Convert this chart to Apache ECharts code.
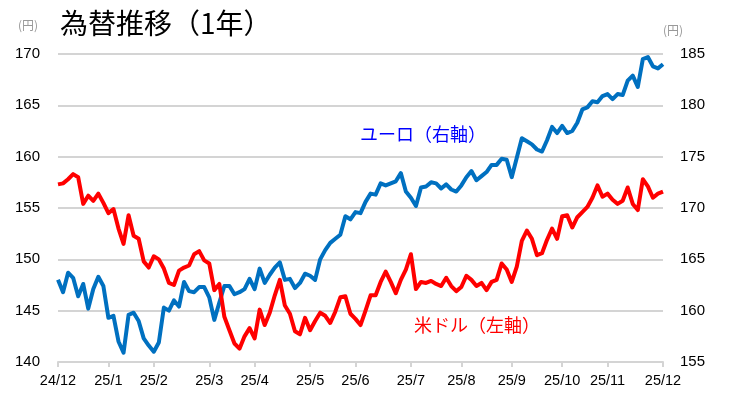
<!DOCTYPE html>
<html>
<head>
    <meta charset="utf-8">
    <script src="https://cdn.jsdelivr.net/npm/echarts@6/dist/echarts.min.js"></script>
    <style>
        html, body { margin: 0; padding: 0; background: #fff; }
    </style>
</head>
<body>
<div id="main" style="width: 733px;height:397px;"></div>
<script type="text/javascript">
    // 月ラベルと、その月が始まる位置(データ番号)
    const monthLabels = ['24/12', '25/1', '25/2', '25/3', '25/4', '25/5', '25/6',
        '25/7', '25/8', '25/9', '25/10', '25/11', '25/12'];
    const monthIdx = [0, 10, 19, 30, 39, 50, 59, 70, 80, 90, 100, 109, 120];

    // 米ドル/円 (左軸)
    const usd = [
        157.3, 157.4, 157.8, 158.3, 158.0, 155.4, 156.2, 155.7, 156.4, 155.5,
        154.5, 154.9, 153.0, 151.5, 154.3, 152.3, 152.0, 149.8, 149.2, 150.3,
        150.0, 149.1, 147.7, 147.5, 148.9, 149.2, 149.4, 150.5, 150.8, 149.9,
        149.6, 147.0, 147.6, 144.4, 143.1, 141.8, 141.3, 142.5, 143.3, 142.3,
        145.1, 143.6, 144.8, 146.5, 148.0, 145.5, 144.7, 143.0, 142.7, 144.3,
        143.1, 144.0, 144.8, 144.5, 143.8, 144.9, 146.3, 146.4, 144.7, 144.2,
        143.6, 145.0, 146.5, 146.5, 147.8, 148.8, 147.8, 146.7, 148.0, 149.0,
        150.5, 147.1, 147.8, 147.7, 147.9, 147.6, 147.4, 148.2, 147.4, 146.9,
        147.3, 148.4, 148.0, 147.4, 147.7, 147.0, 147.8, 148.0, 149.6, 149.0,
        147.8, 149.3, 151.8, 152.8, 152.0, 150.4, 150.6, 151.9, 153.0, 152.0,
        154.2, 154.3, 153.1, 154.1, 154.6, 155.1, 156.0, 157.2, 156.1, 156.4,
        155.8, 155.4, 155.7, 157.0, 155.4, 154.8, 157.8, 157.1, 156.0, 156.4,
        156.6
    ];

    // ユーロ/円 (右軸)
    const eur = [
        163.0, 161.8, 163.7, 163.2, 161.4, 162.6, 160.2, 162.1, 163.3, 162.4,
        159.3, 159.5, 157.0, 155.9, 159.6, 159.8, 159.0, 157.3, 156.6, 156.0,
        156.9, 160.3, 160.0, 161.0, 160.4, 162.8, 161.9, 161.8, 162.3, 162.3,
        161.3, 159.1, 160.8, 162.4, 162.4, 161.6, 161.8, 162.1, 163.1, 162.1,
        164.1, 162.7, 163.5, 164.2, 164.7, 163.0, 163.1, 162.2, 162.7, 163.6,
        163.4, 163.0, 165.0, 165.9, 166.6, 167.0, 167.4, 169.2, 168.9, 169.6,
        169.5, 170.6, 171.4, 171.3, 172.4, 172.2, 172.4, 172.6, 173.4, 171.6,
        171.0, 170.2, 172.0, 172.1, 172.5, 172.4, 171.9, 172.3, 171.8, 171.6,
        172.2, 173.0, 173.6, 172.7, 173.1, 173.5, 174.2, 174.2, 174.8, 174.7,
        173.0, 174.9, 176.8, 176.5, 176.2, 175.7, 175.5, 176.6, 177.9, 177.3,
        178.0, 177.3, 177.5, 178.3, 179.6, 179.8, 180.4, 180.3, 180.9, 181.1,
        180.6, 181.1, 181.0, 182.4, 182.9, 181.8, 184.5, 184.7, 183.8, 183.6,
        184.0
    ];

    // 横軸のカテゴリ(月初だけラベルを持つ)
    const categories = usd.map(() => '');
    monthIdx.forEach((idx, k) => { categories[idx] = monthLabels[k]; });
    const showMonth = (i, v) => v !== '';

    const jp = '"Noto Sans CJK JP", sans-serif';
    const num = '"Liberation Sans", Arial, sans-serif';

    const myChart = echarts.init(document.getElementById('main'));

    const option = {
        animation: false,
        backgroundColor: '#ffffff',
        grid: {
            left: 58, right: 70, top: 54, bottom: 35,
            containLabel: false, outerBoundsMode: 'none'
        },
        graphic: [
            {
                type: 'text', left: 60, top: 9,
                style: { text: '為替推移（1年）', font: '28px ' + jp, fill: '#000' }
            },
            {
                type: 'text', left: 18, top: 19,
                style: { text: '(円)', font: '12px ' + jp, fill: '#999' }
            },
            {
                type: 'text', left: 663, top: 24,
                style: { text: '(円)', font: '12px ' + jp, fill: '#999' }
            },
            {
                type: 'text', left: 360, top: 125,
                style: { text: 'ユーロ（右軸）', font: '18px ' + jp, fill: '#0000ff' }
            },
            {
                type: 'text', left: 414, top: 316,
                style: { text: '米ドル（左軸）', font: '18px ' + jp, fill: '#ff0000' }
            }
        ],
        xAxis: {
            type: 'category',
            data: categories,
            boundaryGap: false,
            axisLine: { lineStyle: { color: '#d4d4d4', width: 2 } },
            axisTick: { interval: showMonth, length: 5, lineStyle: { color: '#d4d4d4', width: 2 } },
            axisLabel: {
                interval: showMonth, margin: 11,
                color: '#000', fontSize: 14.5, fontFamily: num
            },
            splitLine: { show: false }
        },
        yAxis: [
            {
                type: 'value', min: 140, max: 170, interval: 5,
                axisLine: { show: false }, axisTick: { show: false },
                axisLabel: { margin: 18, color: '#000', fontSize: 15, fontFamily: num },
                splitLine: { lineStyle: { color: '#d4d4d4', width: 2 } }
            },
            {
                type: 'value', min: 155, max: 185, interval: 5, position: 'right',
                axisLine: { show: false }, axisTick: { show: false },
                axisLabel: { margin: 17, color: '#000', fontSize: 15, fontFamily: num },
                splitLine: { show: false }
            }
        ],
        series: [
            {
                name: 'ユーロ', type: 'line', yAxisIndex: 1, data: eur,
                symbol: 'none', lineStyle: { color: '#0070c0', width: 4, join: 'round' }
            },
            {
                name: '米ドル', type: 'line', yAxisIndex: 0, data: usd,
                symbol: 'none', lineStyle: { color: '#ff0000', width: 4, join: 'round' }
            }
        ]
    };

    myChart.setOption(option);
</script>
</body>
</html>
